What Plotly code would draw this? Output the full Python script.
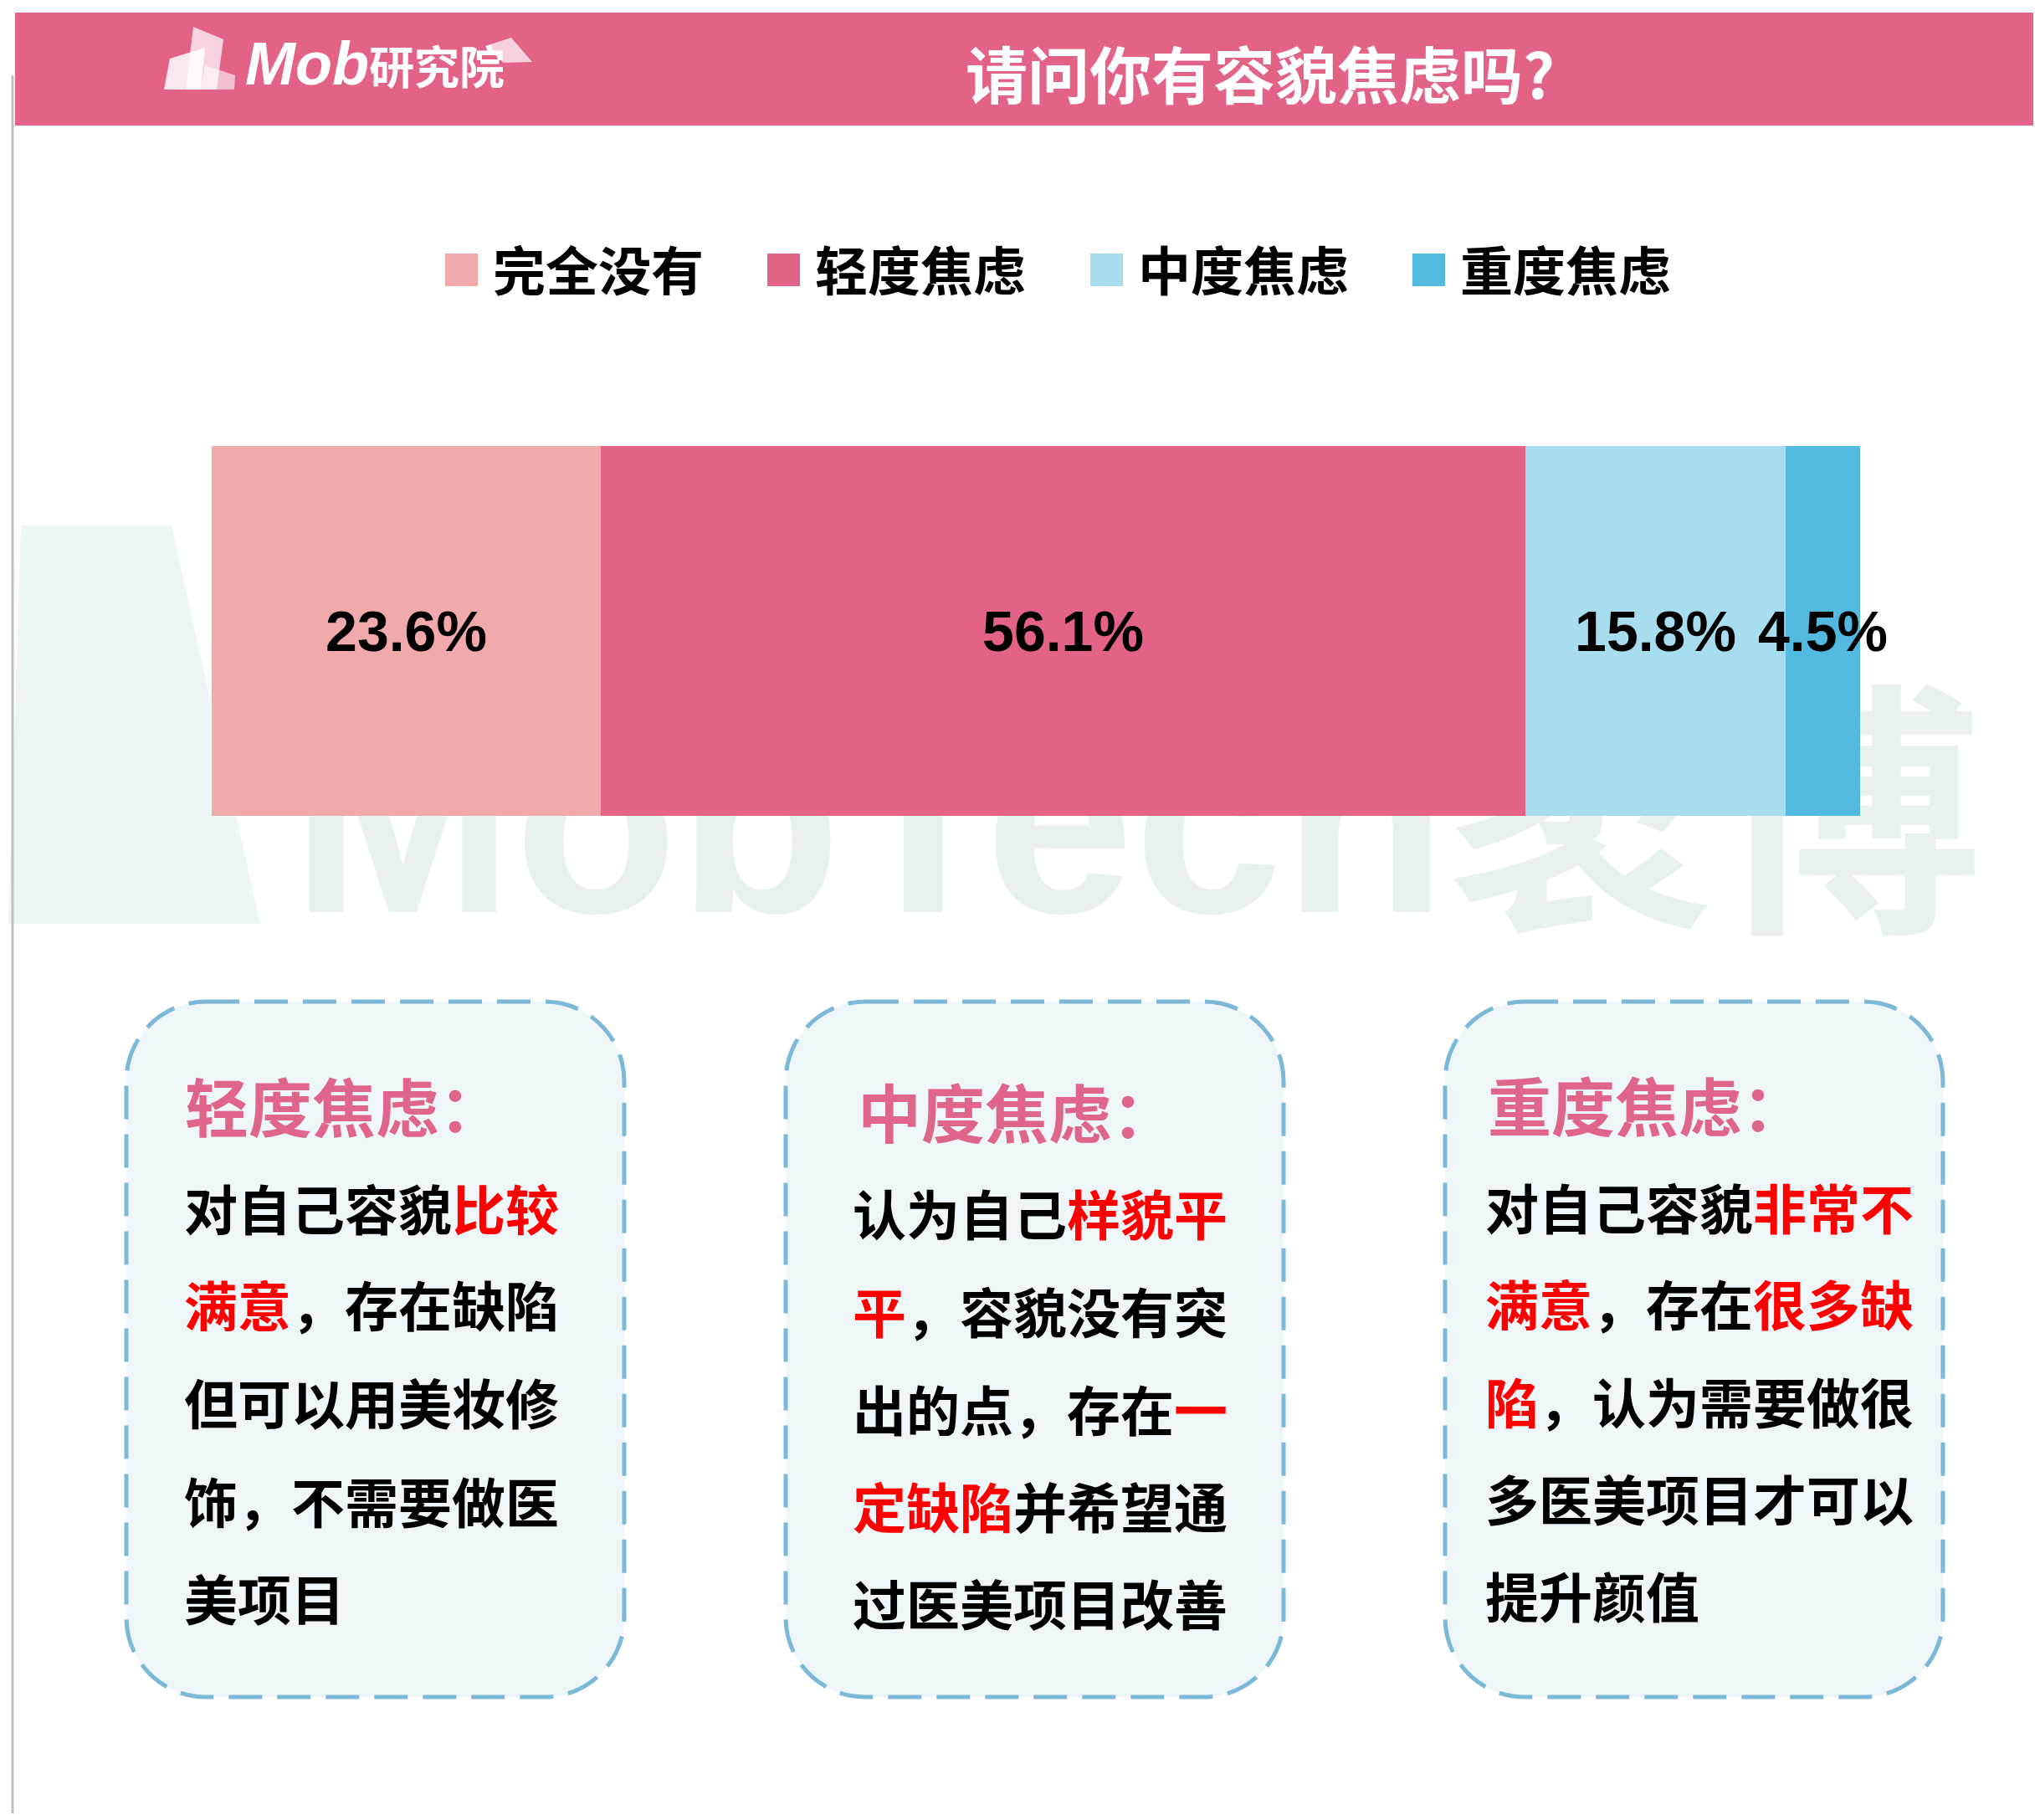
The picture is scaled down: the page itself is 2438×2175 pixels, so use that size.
import plotly.graph_objects as go

# ---------------- data ----------------
categories = ['完全没有', '轻度焦虑', '中度焦虑', '重度焦虑']
values = [23.6, 56.1, 15.8, 4.5]
colors = ['#f0aaab', '#e26386', '#a8dcef', '#52b9e1']

title_text = '请问你有容貌焦虑吗?'
logo_main = 'Mob'
logo_sub = '研究院'
watermark_text = 'MobTech袤博'

box_titles = ['轻度焦虑：', '中度焦虑：', '重度焦虑：']
box_lines = [
    ['对自己容貌[比较]', '[满意]，存在缺陷', '但可以用美妆修', '饰，不需要做医', '美项目'],
    ['认为自己[样貌平]', '[平]，容貌没有突', '出的点，存在[一]', '[定缺陷]并希望通', '过医美项目改善'],
    ['对自己容貌[非常不]', '[满意]，存在[很多缺]', '[陷]，认为需要做很', '多医美项目才可以', '提升颜值'],
]

# ---------------- geometry helpers ----------------
# page body has an 8px margin; the figure is offset by it
OFF = 8
W, H = 2438 - OFF, 2175 - 2 * OFF


def px(x):
    return (x - OFF) / W


def py(y):
    return 1 - (y - OFF) / H


CJK = 'Noto Sans CJK SC'
PINK = '#e26386'
HEAD_PINK = '#e0658a'
RED = '#ff0000'

fig = go.Figure()

# stacked horizontal bar
for cat, val, col in zip(categories, values, colors):
    fig.add_trace(go.Bar(
        y=[0], x=[val], orientation='h', name=cat,
        marker=dict(color=col, line=dict(width=0)),
        text=[f'{val}%'], textposition='inside', insidetextanchor='middle',
        textangle=0, constraintext='none', cliponaxis=False,
        textfont=dict(family='Liberation Sans, Arial', size=68, color='black', weight='bold'),
        showlegend=False, hoverinfo='skip',
    ))

shapes = []
annotations = []

# watermark (below everything)
shapes.append(dict(type='path', xref='paper', yref='paper', layer='below',
                   path=(f'M {px(25)},{py(628)} L {px(205)},{py(628)} L {px(311)},{py(1104)} '
                         f'L {px(10)},{py(1104)} Z'),
                   fillcolor='#eef6f5', line=dict(width=0)))
shapes.append(dict(type='rect', xref='paper', yref='paper', layer='below',
                   x0=px(345), x1=px(2430), y0=py(640), y1=py(1128),
                   fillcolor='rgba(0,0,0,0)', line=dict(width=0),
                   label=dict(text=watermark_text, textposition='bottom left',
                              font=dict(family='Liberation Sans, ' + CJK, size=320,
                                        color='#e8f1ef', weight='bold'),
                              padding=0)))

# header band
shapes.append(dict(type='rect', xref='paper', yref='paper', layer='above',
                   x0=px(18), x1=1.01, y0=py(150), y1=py(15),
                   fillcolor=PINK, line=dict(width=0)))
# left gray rule
shapes.append(dict(type='line', xref='paper', yref='paper',
                   x0=px(15), x1=px(15), y0=py(90), y1=0,
                   line=dict(color='#c0c0c0', width=3)))


def poly(pts, fill):
    d = 'M ' + ' L '.join(f'{px(x)},{py(y)}' for x, y in pts) + ' Z'
    return dict(type='path', xref='paper', yref='paper', path=d,
                fillcolor=fill, line=dict(width=0), layer='above')


# logo icon
shapes.append(poly([(231, 32), (267, 47), (259, 107), (222, 107)], 'rgba(255,255,255,0.72)'))
shapes.append(poly([(203, 70), (245, 57), (240, 107), (196, 107)], 'rgba(255,255,255,0.85)'))
shapes.append(poly([(245, 78), (281, 90), (280, 107), (240, 107)], 'rgba(255,255,255,0.6)'))
shapes.append(poly([(580, 55), (611, 45), (636, 74), (602, 75)], 'rgba(255,255,255,0.7)'))

annotations.append(dict(
    x=px(291), y=py(76), xref='paper', yref='paper', xanchor='left', yanchor='middle',
    text=f'<i>{logo_main}</i><span style="font-size:54px">{logo_sub}</span>',
    showarrow=False, font=dict(family='Liberation Sans, ' + CJK, size=72, color='white', weight='bold')))

# title
annotations.append(dict(
    x=px(1506), y=py(85), xref='paper', yref='paper', xanchor='center', yanchor='middle',
    text=title_text, showarrow=False,
    font=dict(family=CJK, size=74, color='white', weight='bold')))

# legend (manual, large)
leg_x = [532, 917, 1303, 1688]
for cat, col, lx in zip(categories, colors, leg_x):
    shapes.append(dict(type='rect', xref='paper', yref='paper',
                       x0=px(lx), x1=px(lx + 39), y0=py(342), y1=py(303),
                       fillcolor=col, line=dict(width=0)))
    annotations.append(dict(
        x=px(lx + 55), y=py(319), xref='paper', yref='paper', xanchor='left', yanchor='middle',
        text=cat, showarrow=False,
        font=dict(family=CJK, size=63, color='black', weight='bold')))


# rounded dashed boxes
def rrect_path(x0, y0, x1, y1, r):
    k = 0.5523 * r
    segs = [
        ('M', [(x0 + r, y0)]),
        ('L', [(x1 - r, y0)]),
        ('C', [(x1 - r + k, y0), (x1, y0 + r - k), (x1, y0 + r)]),
        ('L', [(x1, y1 - r)]),
        ('C', [(x1, y1 - r + k), (x1 - r + k, y1), (x1 - r, y1)]),
        ('L', [(x0 + r, y1)]),
        ('C', [(x0 + r - k, y1), (x0, y1 - r + k), (x0, y1 - r)]),
        ('L', [(x0, y0 + r)]),
        ('C', [(x0, y0 + r - k), (x0 + r - k, y0), (x0 + r, y0)]),
    ]
    out = []
    for cmd, pts in segs:
        out.append(cmd + ' ' + ' '.join(f'{px(x)},{py(y)}' for x, y in pts))
    return ' '.join(out) + ' Z'


box_x = [(151, 746), (939, 1534), (1727, 2322)]
head_pos = [(219, 1320), (1023, 1327), (1776, 1319)]
body_x = [218, 1017, 1773]
body_y = [
    [1442, 1557, 1674, 1792, 1908],
    [1448, 1565, 1682, 1798, 1914],
    [1441, 1556, 1673, 1789, 1905],
]


def markup(s):
    return s.replace('[', f'<span style="color:{RED}">').replace(']', '</span>')


for i in range(3):
    bx0, bx1 = box_x[i]
    shapes.append(dict(type='path', xref='paper', yref='paper',
                       path=rrect_path(bx0, 1197, bx1, 2028, 95),
                       fillcolor='#eef6fa',
                       line=dict(color='#7cb9d8', width=5, dash='40px,18px')))
    hx, hy = head_pos[i]
    annotations.append(dict(
        x=px(hx), y=py(hy), xref='paper', yref='paper', xanchor='left', yanchor='middle',
        text=box_titles[i], showarrow=False,
        font=dict(family=CJK, size=76, color=HEAD_PINK, weight='bold')))
    for line, ly in zip(box_lines[i], body_y[i]):
        annotations.append(dict(
            x=px(body_x[i]), y=py(ly), xref='paper', yref='paper', xanchor='left', yanchor='middle',
            text=markup(line), showarrow=False,
            font=dict(family=CJK, size=64, color='black', weight='bold')))

fig.update_layout(
    width=W, height=H, autosize=False,
    margin=dict(l=0, r=0, t=0, b=0),
    paper_bgcolor='white', plot_bgcolor='rgba(0,0,0,0)',
    barmode='stack', bargap=0,
    uniformtext=dict(minsize=68, mode='show'),
    xaxis=dict(domain=[px(253), px(2223)], range=[0, 100], visible=False, fixedrange=True),
    yaxis=dict(domain=[py(975), py(533)], range=[-0.5, 0.5], visible=False, fixedrange=True),
    shapes=shapes, annotations=annotations,
    showlegend=False,
)

fig.write_html('out.html')
